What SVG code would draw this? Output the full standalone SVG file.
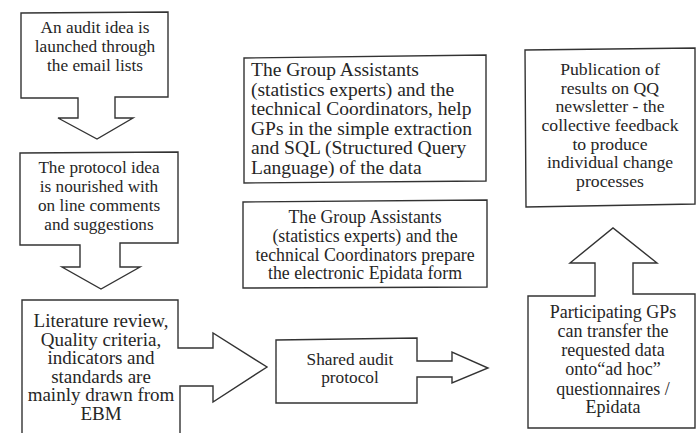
<svg xmlns="http://www.w3.org/2000/svg" width="696" height="433" viewBox="0 0 696 433">
<style>
.shape{fill:#fff;stroke:#333;stroke-width:1.4;stroke-linejoin:miter}
.t{font-family:"Liberation Serif","Times New Roman","DejaVu Serif",serif;fill:#262626}
.c{text-anchor:middle}
</style>
<rect width="696" height="433" fill="#fff"/>
<g id="connectors"></g>
<g id="n1">
<path class="shape" d="M21,13 L168,12 L168,97 L115,97 L115,118 L133,118 L97,139 L58,118 L78,118 L78,98 L21,98 Z"/>
<text class="t c" font-family="Liberation Serif, serif" font-size="17.3"><tspan x="95" y="33">An audit idea is</tspan><tspan x="95" y="52">launched through</tspan><tspan x="95" y="71">the email lists</tspan></text>
</g>
<g id="n2">
<path class="shape" d="M20,153 L178,152 L178,243 L120,243 L120,267 L140,267 L101,289 L62,267 L80,267 L80,245 L20,245 Z"/>
<text class="t c" font-family="Liberation Serif, serif" font-size="17.2"><tspan x="99" y="173">The protocol idea</tspan><tspan x="99" y="192">is nourished with</tspan><tspan x="99" y="211">on line comments</tspan><tspan x="99" y="230">and suggestions</tspan></text>
</g>
<g id="n3">
<path class="shape" d="M22,300 L178,300 L178,348 L213,348 L213,333 L267,367 L213,402 L213,386 L180,386 L180,440 L22,440 Z"/>
<text class="t c" font-family="Liberation Serif, serif" font-size="19"><tspan x="101" y="327">Literature review,</tspan><tspan x="101" y="345.5">Quality criteria,</tspan><tspan x="101" y="364">indicators and</tspan><tspan x="101" y="382.5">standards are</tspan><tspan x="101" y="401">mainly drawn from</tspan><tspan x="101" y="419.5">EBM</tspan></text>
</g>
<g id="n4">
<path class="shape" d="M276,340 L417,338 L417,361 L452,361 L452,352 L488,368 L452,383 L452,377 L417,377 L417,403 L276,403 Z"/>
<text class="t c" font-family="Liberation Serif, serif" font-size="17.3"><tspan x="350" y="365">Shared audit</tspan><tspan x="350" y="383">protocol</tspan></text>
</g>
<g id="n5">
<path class="shape" d="M244,58 L486,55 L486,181 L244,183 Z"/>
<text class="t" font-family="Liberation Serif, serif" font-size="19.5"><tspan x="251" y="76">The Group Assistants</tspan><tspan x="251" y="95.5">(statistics experts) and the</tspan><tspan x="251" y="115">technical Coordinators, help</tspan><tspan x="251" y="134.5">GPs in the simple extraction</tspan><tspan x="251" y="154">and SQL (Structured Query</tspan><tspan x="251" y="173.5">Language) of the data</tspan></text>
</g>
<g id="n6">
<path class="shape" d="M243,202 L487,200 L487,287 L243,288 Z"/>
<text class="t c" font-family="Liberation Serif, serif" font-size="17.8"><tspan x="365" y="223">The Group Assistants</tspan><tspan x="365" y="242">(statistics experts) and the</tspan><tspan x="365" y="261">technical Coordinators prepare</tspan><tspan x="365" y="279">the electronic Epidata form</tspan></text>
</g>
<g id="n7">
<path class="shape" d="M525,50 L695,48 L695,204 L526,207 Z"/>
<text class="t c" font-family="Liberation Serif, serif" font-size="17.7"><tspan x="610" y="75">Publication of</tspan><tspan x="610" y="93.5">results on QQ</tspan><tspan x="610" y="112">newsletter - the</tspan><tspan x="610" y="131">collective feedback</tspan><tspan x="610" y="149.5">to produce</tspan><tspan x="610" y="168">individual change</tspan><tspan x="610" y="187">processes</tspan></text>
</g>
<g id="n8">
<path class="shape" d="M528,296 L595,296 L595,263 L570,263 L613,228 L657,263 L633,263 L633,294 L695,294 L695,428 L528,428 Z"/>
<text class="t c" font-family="Liberation Serif, serif" font-size="18"><tspan x="613" y="318">Participating GPs</tspan><tspan x="613" y="337">can transfer the</tspan><tspan x="613" y="356">requested data</tspan><tspan x="613" y="375">onto“ad hoc”</tspan><tspan x="613" y="394.5">questionnaires /</tspan><tspan x="613" y="413">Epidata</tspan></text>
</g>
</svg>
